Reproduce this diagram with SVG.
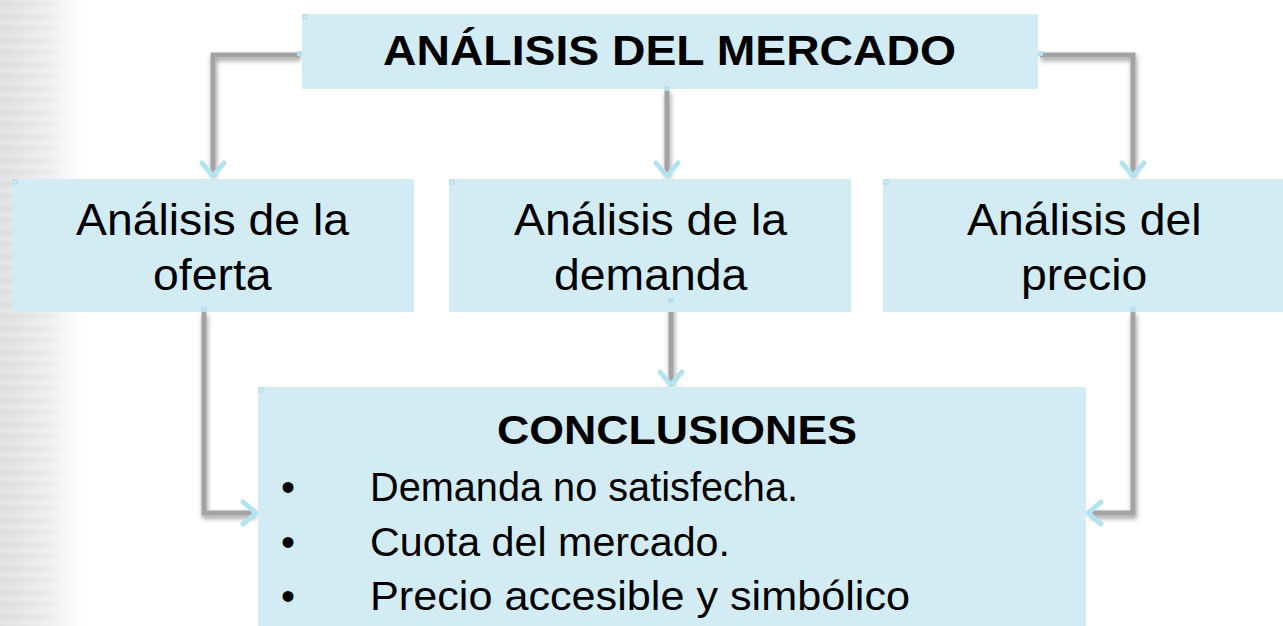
<svg xmlns="http://www.w3.org/2000/svg" width="1283" height="626" viewBox="0 0 1283 626">
  <style>
    .box { fill: #d3ebf2; }
    .handle { fill: none; stroke: #b6e1ee; stroke-width: 1.5; }
    .t { font-family: "Liberation Sans", Arial, sans-serif; fill: #000; }
    .b { font-weight: bold; }
    .conn { fill: none; stroke: #a3a3a3; stroke-width: 5; filter: url(#sh); }
    .head { fill: none; stroke: #b3e3ef; stroke-width: 5; stroke-linecap: round; stroke-linejoin: round; }
    .notch { fill: #b3e3ef; }
  </style>
  <defs>
    <linearGradient id="bg" x1="0" y1="0" x2="1" y2="0">
      <stop offset="0" stop-color="#e2e2e2"/>
      <stop offset="0.55" stop-color="#efefef"/>
      <stop offset="1" stop-color="#ffffff"/>
    </linearGradient>
    <pattern id="stripes" width="85" height="12" patternUnits="userSpaceOnUse">
      <rect x="0" y="2" width="60" height="5" fill="#d4d4d4"/>
    </pattern>
    <linearGradient id="fade" x1="0" y1="0" x2="1" y2="0">
      <stop offset="0" stop-color="#fff" stop-opacity="0.7"/>
      <stop offset="1" stop-color="#fff" stop-opacity="0"/>
    </linearGradient>
    <mask id="fm"><rect x="0" y="0" width="85" height="626" fill="url(#fade)"/></mask>
    <filter id="sh" filterUnits="userSpaceOnUse" x="0" y="0" width="1283" height="626">
      <feGaussianBlur in="SourceAlpha" stdDeviation="2.5"/>
      <feOffset dx="1" dy="3" result="o"/>
      <feFlood flood-color="#000" flood-opacity="0.4"/>
      <feComposite in2="o" operator="in"/>
      <feMerge><feMergeNode/><feMergeNode in="SourceGraphic"/></feMerge>
    </filter>
  </defs>

  <rect width="1283" height="626" fill="#fff"/>
  <g id="background">
    <rect x="0" y="0" width="85" height="626" fill="url(#bg)"/>
    <rect x="0" y="0" width="85" height="626" fill="url(#stripes)" mask="url(#fm)" opacity="0.6"/>
  </g>

  <g id="connectors">
    <path class="conn" d="M300,55 H213 V175"/>
    <path class="conn" d="M667,90 V175"/>
    <path class="conn" d="M1040,55 H1133 V175"/>
    <path class="conn" d="M671,303 V384"/>
    <path class="conn" d="M204,312 V513 H255"/>
    <path class="conn" d="M1133,312 V513 H1089"/>
    <polyline class="head" points="202,163 213,176 224,163"/>
    <polyline class="head" points="656,163 667,176 678,163"/>
    <polyline class="head" points="1122,163 1133,176 1144,163"/>
    <polyline class="head" points="660,372 671,385 682,372"/>
    <polyline class="head" points="243,502 256,513 243,524"/>
    <polyline class="head" points="1101,502 1088,513 1101,524"/>
  </g>

  <g id="n-mercado">
    <rect class="box" x="302" y="14" width="736" height="75"/>
    <rect class="handle" x="303" y="15" width="4" height="4"/>
    <rect class="notch" x="297" y="51" width="5" height="5"/>
    <rect class="notch" x="1038" y="51" width="5" height="5"/>
    <rect class="notch" x="664" y="86" width="6" height="5"/>
    <text class="t b" x="383" y="65" font-size="42" textLength="573" lengthAdjust="spacingAndGlyphs">ANÁLISIS DEL MERCADO</text>
  </g>

  <g id="n-oferta">
    <rect class="box" x="12" y="179" width="402" height="133"/>
    <rect class="handle" x="13" y="180" width="4" height="4"/>
    <rect class="notch" x="201" y="307" width="6" height="5"/>
    <text class="t" x="76" y="235" font-size="45" textLength="273" lengthAdjust="spacingAndGlyphs">Análisis de la</text>
    <text class="t" x="153" y="290" font-size="45" textLength="118.6" lengthAdjust="spacingAndGlyphs">oferta</text>
  </g>

  <g id="n-demanda">
    <rect class="box" x="449" y="179" width="402" height="133"/>
    <rect class="handle" x="450" y="180" width="4" height="4"/>
    <rect class="notch" x="668" y="298" width="6" height="5"/>
    <text class="t" x="514" y="235" font-size="45" textLength="273" lengthAdjust="spacingAndGlyphs">Análisis de la</text>
    <text class="t" x="554" y="290" font-size="45" textLength="193.4" lengthAdjust="spacingAndGlyphs">demanda</text>
  </g>

  <g id="n-precio">
    <rect class="box" x="883" y="179" width="400" height="133"/>
    <rect class="handle" x="884" y="180" width="4" height="4"/>
    <rect class="notch" x="1130" y="307" width="6" height="5"/>
    <text class="t" x="967" y="235" font-size="45" textLength="234.6" lengthAdjust="spacingAndGlyphs">Análisis del</text>
    <text class="t" x="1021" y="290" font-size="45" textLength="126.3" lengthAdjust="spacingAndGlyphs">precio</text>
  </g>

  <g id="n-conclusiones">
    <rect class="box" x="258" y="387" width="828" height="239"/>
    <rect class="handle" x="259" y="388" width="4" height="4"/>
    <text class="t b" x="497" y="444" font-size="41" textLength="360" lengthAdjust="spacingAndGlyphs">CONCLUSIONES</text>
    <text class="t" x="281" y="501" font-size="40">•</text>
    <text class="t" x="370" y="501" font-size="41" textLength="428" lengthAdjust="spacingAndGlyphs">Demanda no satisfecha.</text>
    <text class="t" x="281" y="556" font-size="40">•</text>
    <text class="t" x="370" y="556" font-size="41" textLength="360" lengthAdjust="spacingAndGlyphs">Cuota del mercado.</text>
    <text class="t" x="281" y="610" font-size="40">•</text>
    <text class="t" x="370" y="610" font-size="41" textLength="540" lengthAdjust="spacingAndGlyphs">Precio accesible y simbólico</text>
  </g>
</svg>
